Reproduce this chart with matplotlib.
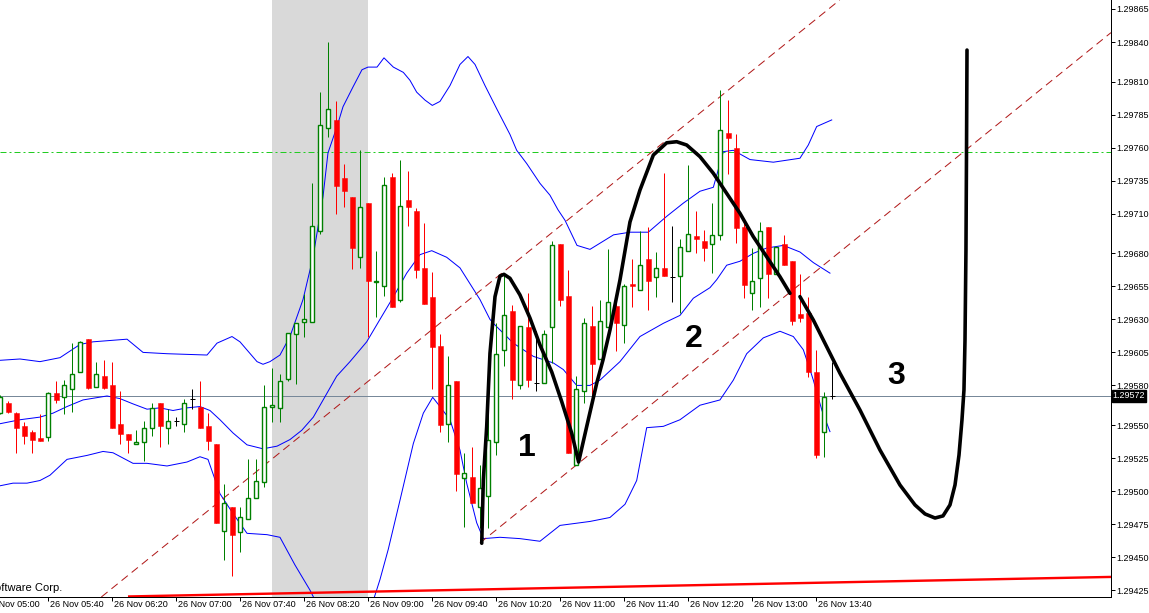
import matplotlib
matplotlib.use("Agg")
import matplotlib.pyplot as plt
import numpy as np

W, H, DPI = 1149, 613, 100
PX = 72 / DPI  # one pixel in points

# 5-minute candles, bar 0 = 26 Nov 05:10
opens = [1.29559, 1.29567, 1.29559, 1.29549, 1.29545, 1.29540, 1.29541, 1.29574, 1.29571, 1.29577,
         1.29590, 1.29615, 1.29579, 1.29587, 1.29580, 1.29551, 1.29543, 1.29536, 1.29537, 1.29548,
         1.29567, 1.29548, 1.29553, 1.29551, 1.29570, 1.29564, 1.29549, 1.29536, 1.29470, 1.29488,
         1.29469, 1.29479, 1.29495, 1.29507, 1.29564, 1.29563, 1.29585, 1.29619, 1.29628, 1.29628,
         1.29697, 1.29775, 1.29781, 1.29737, 1.29723, 1.29677, 1.29718, 1.29658, 1.29655, 1.29738,
         1.29645, 1.29720, 1.29712, 1.29669, 1.29647, 1.29610, 1.29551, 1.29583, 1.29510, 1.29511,
         1.29488, 1.29496, 1.29537, 1.29607, 1.29636, 1.29580, 1.29624, 1.29582, 1.29582, 1.29624,
         1.29687, 1.29648, 1.29520, 1.29576, 1.29625, 1.29600, 1.29624, 1.29640, 1.29626, 1.29657,
         1.29652, 1.29676, 1.29662, 1.29669, 1.29662, 1.29663, 1.29682, 1.29693, 1.29689, 1.29687,
         1.29694, 1.29771, 1.29760, 1.29700, 1.29650, 1.29661, 1.29700, 1.29664, 1.29687, 1.29674,
         1.29634, 1.29635, 1.29590, 1.29545, 1.29572]
highs = [1.29573, 1.29568, 1.29560, 1.29552, 1.29546, 1.29558, 1.29575, 1.29583, 1.29584, 1.29612,
         1.29614, 1.29615, 1.29598, 1.29599, 1.29598, 1.29576, 1.29543, 1.29546, 1.29553, 1.29567,
         1.29567, 1.29562, 1.29556, 1.29570, 1.29577, 1.29583, 1.29559, 1.29536, 1.29505, 1.29488,
         1.29488, 1.29524, 1.29524, 1.29580, 1.29593, 1.29589, 1.29620, 1.29627, 1.29649, 1.29733,
         1.29802, 1.29840, 1.29795, 1.29748, 1.29723, 1.29758, 1.29718, 1.29682, 1.29738, 1.29741,
         1.29751, 1.29742, 1.29714, 1.29703, 1.29666, 1.29619, 1.29602, 1.29583, 1.29529, 1.29533,
         1.29520, 1.29564, 1.29627, 1.29664, 1.29641, 1.29625, 1.29650, 1.29621, 1.29622, 1.29689,
         1.29687, 1.29667, 1.29587, 1.29631, 1.29640, 1.29645, 1.29683, 1.29647, 1.29657, 1.29676,
         1.29697, 1.29700, 1.29681, 1.29741, 1.29701, 1.29691, 1.29747, 1.29712, 1.29698, 1.29718,
         1.29804, 1.29796, 1.29770, 1.29704, 1.29684, 1.29704, 1.29700, 1.29685, 1.29694, 1.29674,
         1.29664, 1.29647, 1.29607, 1.29575, 1.29598]
lows = [1.29558, 1.29559, 1.29529, 1.29536, 1.29529, 1.29538, 1.29538, 1.29567, 1.29558, 1.29560,
        1.29590, 1.29577, 1.29579, 1.29577, 1.29548, 1.29536, 1.29529, 1.29536, 1.29523, 1.29542,
        1.29533, 1.29536, 1.29549, 1.29545, 1.29562, 1.29548, 1.29531, 1.29476, 1.29448, 1.29436,
        1.29454, 1.29479, 1.29495, 1.29503, 1.29552, 1.29552, 1.29583, 1.29581, 1.29617, 1.29628,
        1.29695, 1.29768, 1.29710, 1.29715, 1.29668, 1.29669, 1.29617, 1.29632, 1.29648, 1.29639,
        1.29643, 1.29701, 1.29661, 1.29642, 1.29577, 1.29545, 1.29537, 1.29500, 1.29473, 1.29491,
        1.29472, 1.29472, 1.29527, 1.29595, 1.29570, 1.29577, 1.29579, 1.29576, 1.29582, 1.29597,
        1.29640, 1.29529, 1.29520, 1.29567, 1.29564, 1.29600, 1.29624, 1.29606, 1.29612, 1.29639,
        1.29652, 1.29637, 1.29647, 1.29663, 1.29643, 1.29635, 1.29682, 1.29680, 1.29674, 1.29665,
        1.29690, 1.29740, 1.29688, 1.29646, 1.29637, 1.29639, 1.29646, 1.29664, 1.29671, 1.29626,
        1.29628, 1.29586, 1.29525, 1.29526, 1.29570]
closes = [1.29571, 1.29560, 1.29548, 1.29542, 1.29539, 1.29538, 1.29574, 1.29569, 1.29580, 1.29589,
          1.29613, 1.29578, 1.29589, 1.29578, 1.29548, 1.29543, 1.29539, 1.29537, 1.29548, 1.29563,
          1.29549, 1.29553, 1.29553, 1.29567, 1.29570, 1.29548, 1.29538, 1.29476, 1.29491, 1.29467,
          1.29480, 1.29495, 1.29508, 1.29564, 1.29565, 1.29583, 1.29620, 1.29627, 1.29630, 1.29701,
          1.29777, 1.29789, 1.29731, 1.29727, 1.29684, 1.29715, 1.29659, 1.29659, 1.29732, 1.29639,
          1.29716, 1.29715, 1.29667, 1.29642, 1.29609, 1.29550, 1.29580, 1.29513, 1.29514, 1.29491,
          1.29502, 1.29539, 1.29604, 1.29633, 1.29584, 1.29625, 1.29584, 1.29582, 1.29619, 1.29686,
          1.29645, 1.29529, 1.29577, 1.29627, 1.29596, 1.29629, 1.29643, 1.29627, 1.29655, 1.29655,
          1.29671, 1.29659, 1.29669, 1.29663, 1.29662, 1.29685, 1.29695, 1.29691, 1.29684, 1.29694,
          1.29773, 1.29767, 1.29699, 1.29656, 1.29659, 1.29697, 1.29664, 1.29685, 1.29671, 1.29629,
          1.29631, 1.29590, 1.29527, 1.29571, 1.29572]

# Bollinger bands (bar position, price)
upper_x = [-0.04, 2.46, 4.96, 7.46, 9.96, 11.59, 15.84, 17.84, 20.84, 25.84, 27.09, 28.96, 29.96,
           32.09, 32.84, 33.71, 34.96, 36.21, 37.84, 39.09, 40.34, 40.96, 42.09, 42.84, 44.09, 45.21,
           45.96, 47.09, 47.96, 49.13, 50.38, 51.21, 52.05, 53.09, 54.0, 54.96, 56.21, 57.46, 58.46,
           59.34, 60.59, 62.09, 63.71, 64.55, 65.8, 67.46, 68.71, 69.71, 70.59, 72.09, 73.71, 76.66,
           78.71, 81.0, 83.3, 85.38, 87.46, 89.13, 90.38, 91.63, 93.71, 96.63, 99.96, 101.0, 102.05,
           103.93]
upper_p = [1.29599, 1.29600, 1.29598, 1.29601, 1.29611, 1.29613, 1.29615, 1.29605, 1.29604, 1.29603,
           1.29612, 1.29617, 1.29613, 1.29598, 1.29596, 1.29598, 1.29603, 1.29617, 1.29645, 1.29677,
           1.29723, 1.29756, 1.29776, 1.29791, 1.29806, 1.29819, 1.29821, 1.29821, 1.29828, 1.29821,
           1.29817, 1.29811, 1.29802, 1.29796, 1.29792, 1.29795, 1.29807, 1.29823, 1.29829, 1.29823,
           1.29807, 1.29789, 1.29770, 1.29758, 1.29748, 1.29733, 1.29724, 1.29713, 1.29705, 1.29686,
           1.29683, 1.29694, 1.29696, 1.29696, 1.29708, 1.29718, 1.29727, 1.29730, 1.29757, 1.29758,
           1.29751, 1.29749, 1.29752, 1.29762, 1.29776, 1.29781]
middle_x = [-0.04, 2.46, 4.96, 6.59, 8.34, 10.34, 13.34, 14.96, 16.59, 18.34, 19.96, 21.59, 23.34,
            24.96, 26.21, 27.46, 29.09, 30.84, 32.84, 34.59, 36.21, 37.68, 39.13, 42.05, 43.71, 45.8,
            47.46, 49.13, 50.8, 52.46, 53.93, 55.8, 57.46, 58.71, 59.96, 61.21, 61.63, 64.13, 66.63,
            69.13, 70.38, 72.05, 73.71, 74.96, 77.46, 79.96, 82.88, 84.96, 86.63, 88.71, 89.55, 90.8,
            92.46, 94.13, 95.8, 97.88, 99.96, 101.63, 103.71]
middle_p = [1.29551, 1.29554, 1.29556, 1.29559, 1.29564, 1.29569, 1.29572, 1.29570, 1.29566, 1.29562,
            1.29563, 1.29561, 1.29563, 1.29564, 1.29561, 1.29554, 1.29544, 1.29535, 1.29532, 1.29534,
            1.29539, 1.29546, 1.29556, 1.29587, 1.29598, 1.29613, 1.29630, 1.29647, 1.29665, 1.29679,
            1.29682, 1.29677, 1.29669, 1.29657, 1.29645, 1.29630, 1.29627, 1.29612, 1.29602, 1.29597,
            1.29592, 1.29580, 1.29580, 1.29584, 1.29598, 1.29617, 1.29627, 1.29633, 1.29646, 1.29654,
            1.29660, 1.29671, 1.29674, 1.29680, 1.29684, 1.29686, 1.29681, 1.29673, 1.29665]
lower_x = [-0.04, 1.59, 3.34, 4.96, 6.21, 8.34, 10.84, 12.84, 14.09, 16.59, 18.34, 20.84, 23.34,
           24.96, 25.96, 27.46, 29.09, 30.84, 33.34, 34.96, 36.84, 38.71, 39.96, 41.84, 43.71, 45.21,
           46.46, 47.46, 48.5, 49.96, 51.63, 52.88, 54.05, 54.96, 56.21, 57.46, 58.3, 59.55, 60.38,
           62.46, 64.96, 67.46, 69.96, 73.71, 76.21, 78.09, 79.55, 80.8, 82.88, 84.96, 87.46, 89.96,
           91.63, 93.3, 95.38, 97.46, 99.13, 100.38, 101.21, 101.63, 102.71, 103.71]
lower_p = [1.29504, 1.29506, 1.29506, 1.29508, 1.29512, 1.29524, 1.29527, 1.29530, 1.29529, 1.29521,
           1.29521, 1.29519, 1.29522, 1.29526, 1.29524, 1.29498, 1.29483, 1.29468, 1.29467, 1.29465,
           1.29444, 1.29425, 1.29410, 1.29387, 1.29380, 1.29391, 1.29414, 1.29433, 1.29456, 1.29493,
           1.29536, 1.29559, 1.29571, 1.29564, 1.29554, 1.29531, 1.29506, 1.29476, 1.29464, 1.29465,
           1.29464, 1.29462, 1.29474, 1.29477, 1.29480, 1.29490, 1.29508, 1.29548, 1.29549, 1.29554,
           1.29565, 1.29569, 1.29584, 1.29604, 1.29616, 1.29621, 1.29617, 1.29607, 1.29592, 1.29584,
           1.29561, 1.29545]

# hand-drawn black wave sketch (two strokes)
wave1_x = [60.18, 60.38, 60.80, 61.21, 61.84, 62.46, 62.96, 63.71, 64.96, 66.21, 67.46, 68.93, 70.18,
           71.43, 72.29, 73.3, 74.55, 75.34, 76.21, 77.46, 78.71, 79.96, 81.63, 83.3, 84.55, 85.8,
           87.46, 89.13, 90.8, 92.46, 94.13, 95.8, 97.46, 98.71]
wave1_p = [1.294605, 1.295084, 1.295488, 1.296043, 1.296472, 1.296628, 1.296641, 1.296611, 1.296485,
           1.296310, 1.296106, 1.295902, 1.295677, 1.295438, 1.295220, 1.295488, 1.295816, 1.295993,
           1.296220, 1.296598, 1.297037, 1.297279, 1.297544, 1.297637, 1.297645, 1.297620, 1.297532,
           1.297406, 1.297254, 1.297103, 1.296926, 1.296774, 1.296623, 1.296497]
wave2_x = [99.96, 101.63, 103.3, 104.96, 107.46, 109.96, 112.46, 114.34, 115.59, 116.84, 117.84,
           118.71, 119.34, 119.84, 120.21, 120.46, 120.59, 120.71, 120.78, 120.84]
wave2_p = [1.296472, 1.296295, 1.296093, 1.295892, 1.295614, 1.295311, 1.295046, 1.294895, 1.294827,
           1.294796, 1.294812, 1.294895, 1.295046, 1.295273, 1.295538, 1.295765, 1.296144, 1.296825,
           1.297582, 1.298339]
wave_labels = ["1", "2", "3"]
wave_label_x = [65.8, 86.71, 111.96]
wave_label_p = [1.295326, 1.296149, 1.295871]

# channel trend lines (start / end anchors)
channel_upper_x = [12.63, 104.93]
channel_upper_p = [1.294198, 1.298718]
channel_lower_x = [59.96, 138.84]
channel_lower_p = [1.294607, 1.298471]
level_line = 1.29757
bottom_line_x = [15.96, 138.84]
bottom_line_p = [1.294202, 1.294350]
session_span = (33.93, 45.93)

x_tick_bars = [-2, 6, 14, 22, 30, 38, 46, 54, 62, 70, 78, 86, 94, 102]
x_tick_labels = ["26 Nov 05:00", "26 Nov 05:40", "26 Nov 06:20", "26 Nov 07:00", "26 Nov 07:40",
                 "26 Nov 08:20", "26 Nov 09:00", "26 Nov 09:40", "26 Nov 10:20", "26 Nov 11:00",
                 "26 Nov 11:40", "26 Nov 12:20", "26 Nov 13:00", "26 Nov 13:40"]
y_ticks = [1.29425, 1.29450, 1.29475, 1.29500, 1.29525, 1.29550, 1.29580, 1.29605, 1.29630,
           1.29655, 1.29680, 1.29710, 1.29735, 1.29760, 1.29785, 1.29810, 1.29840, 1.29865]

GREEN = "#008000"
RED = "#ff0000"
BLUE = "#0000ff"
DASH_RED = "#b01818"
FONT = "Liberation Sans"
LABEL_SIZE = 6.5

fig = plt.figure(figsize=(W / DPI, H / DPI), dpi=DPI)
ax = fig.add_axes([0, 16 / H, 1111 / W, 597 / H])
ax.set_xlim(-0.0375, 138.84)
ax.set_ylim(1.294198, 1.298718)

ax.axvspan(*session_span, color="#d9d9d9", lw=0, zorder=0)
ax.axhline(closes[-1], color="#778899", lw=PX, zorder=1)
ax.axhline(level_line, color="#22cc22", lw=PX, ls=(0, (6, 3, 2, 3)), zorder=1)

ax.plot(upper_x, upper_p, color=BLUE, lw=PX, zorder=2)
ax.plot(middle_x, middle_p, color=BLUE, lw=PX, zorder=2)
ax.plot(lower_x, lower_p, color=BLUE, lw=PX, zorder=2)

ax.plot(channel_upper_x, channel_upper_p, color=DASH_RED, lw=PX, ls=(0, (8, 5)), zorder=2)
ax.plot(channel_lower_x, channel_lower_p, color=DASH_RED, lw=PX, ls=(0, (8, 5)), zorder=2)
ax.plot(bottom_line_x, bottom_line_p, color=RED, lw=2.4 * PX, zorder=2, solid_capstyle="butt")

# candles
x = np.arange(len(opens))
o, hi, lo, c = (np.array(v) for v in (opens, highs, lows, closes))
up = c > o
dn = c < o
flat = c == o
ax.vlines(x[up], lo[up], hi[up], color=GREEN, lw=PX, zorder=3)
ax.vlines(x[dn], lo[dn], hi[dn], color=RED, lw=PX, zorder=3)
ax.vlines(x[flat], lo[flat], hi[flat], color="black", lw=PX, zorder=3)
ax.bar(x[up], c[up] - o[up], bottom=o[up], width=0.55, facecolor="white",
       edgecolor=GREEN, linewidth=1.4 * PX, zorder=4)
ax.bar(x[dn], o[dn] - c[dn], bottom=c[dn], width=0.62, facecolor=RED,
       edgecolor=RED, linewidth=0.5 * PX, zorder=4)
ax.hlines(c[flat], x[flat] - 0.31, x[flat] + 0.31, color="black", lw=PX, zorder=4)

# sketch of the expected wave
ax.plot(wave1_x, wave1_p, color="black", lw=3.6 * PX, zorder=6, solid_capstyle="round")
ax.plot(wave2_x, wave2_p, color="black", lw=3.6 * PX, zorder=6, solid_capstyle="round")
for lbl, bx, py in zip(wave_labels, wave_label_x, wave_label_p):
    ax.text(bx, py, lbl, fontsize=23, fontweight="bold", family="Liberation Sans",
            ha="center", va="center", zorder=7)

# frame in MT4 style
for side in ("left", "top"):
    ax.spines[side].set_visible(False)
for side in ("right", "bottom"):
    ax.spines[side].set_color("black")
    ax.spines[side].set_linewidth(PX)

ax.yaxis.tick_right()
ax.set_yticks(y_ticks)
ax.set_yticklabels([f"{v:.5f}" for v in y_ticks], family=FONT, fontsize=LABEL_SIZE)
ax.tick_params(axis="y", direction="out", length=4 * PX, width=PX, pad=1.2)

ax.set_xticks(x_tick_bars[1:])
ax.set_xticklabels([])
ax.tick_params(axis="x", direction="out", length=4 * PX, width=PX)
for bx, lbl in zip(x_tick_bars, x_tick_labels):
    ax.annotate(lbl, xy=(bx, 0), xycoords=("data", "axes fraction"), xytext=(1.2, -2.0),
                textcoords="offset points", ha="left", va="top", fontsize=LABEL_SIZE,
                family=FONT, annotation_clip=False)

# current bid label
ax.annotate(f"{closes[-1]:.5f}", xy=(1, closes[-1]), xycoords=("axes fraction", "data"),
            xytext=(1.2, 0), textcoords="offset points", ha="left", va="center",
            fontsize=LABEL_SIZE, family=FONT, color="white", annotation_clip=False,
            bbox=dict(boxstyle="square,pad=0.12", fc="black", ec="black"))

fig.text(62 / W, 1 - 588 / H, "© 2001-2012, MetaQuotes Software Corp.",
         ha="right", va="center", fontsize=8.0, family=FONT)

fig.savefig("out.png", dpi=DPI)
plt.close(fig)
